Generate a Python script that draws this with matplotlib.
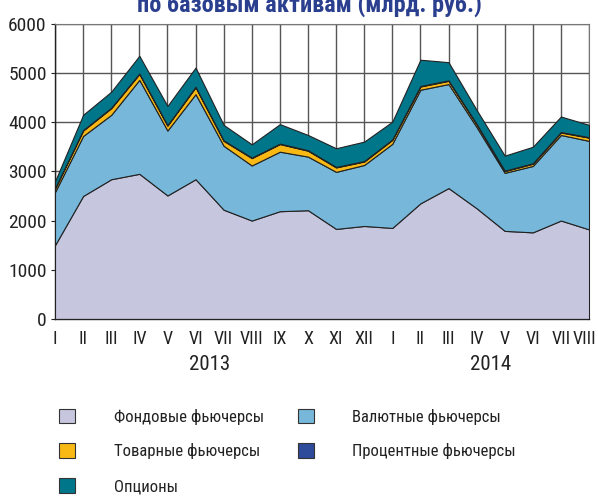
import numpy as np
import matplotlib.pyplot as plt
from matplotlib.patches import Patch
import matplotlib.transforms as mtransforms

months = ['I', 'II', 'III', 'IV', 'V', 'VI', 'VII', 'VIII', 'IX', 'X', 'XI', 'XII',
          'I', 'II', 'III', 'IV', 'V', 'VI', 'VII', 'VIII']
years = ['2013', '2014']
year_pos = [5.5, 15.5]

# млрд. руб.
stock_fut = [1500, 2500, 2840, 2950, 2510, 2840, 2220, 2000, 2190, 2210, 1830, 1890,
             1850, 2350, 2660, 2250, 1790, 1760, 2000, 1820]
fx_fut = [1080, 1220, 1310, 1910, 1320, 1730, 1300, 1120, 1210, 1090, 1160, 1240,
          1710, 2310, 2115, 1650, 1180, 1350, 1740, 1800]
comm_fut = [70, 110, 135, 120, 100, 140, 100, 150, 155, 120, 90, 70,
            80, 65, 65, 55, 35, 45, 50, 65]
rate_fut = [10, 10, 10, 10, 10, 10, 10, 10, 10, 10, 10, 10,
            10, 10, 10, 10, 10, 10, 10, 10]
options = [140, 310, 325, 360, 390, 390, 315, 270, 395, 310, 380, 395,
           360, 535, 370, 285, 305, 335, 315, 250]

labels = ['Фондовые фьючерсы', 'Валютные фьючерсы', 'Товарные фьючерсы',
          'Процентные фьючерсы', 'Опционы']
colors = ['#c6c6df', '#76b7da', '#f9b914', '#2e4a9a', '#00768a']

plt.rcParams['font.family'] = ['Roboto Condensed', 'PT Sans Narrow', 'DejaVu Sans']

fig = plt.figure(figsize=(5.98, 4.96), dpi=100)
ax = fig.add_axes([0.092, 0.357, 0.893, 0.595])

x = np.arange(len(months))
ax.stackplot(x, stock_fut, fx_fut, comm_fut, rate_fut, options,
             colors=colors, edgecolor='#222222', linewidth=0.8, zorder=3)

ax.set_xlim(0, len(months) - 1)
ax.set_ylim(0, 6000)
ax.set_yticks(range(0, 6001, 1000))
ax.set_xticks(x)
# the last label would run off the right edge, so it is placed by hand below
ax.set_xticklabels(months[:-1] + [''], fontsize=13, color='#222222')
ax.tick_params(axis='y', labelsize=14, colors='#222222', length=3, width=0.8, pad=3)
ax.tick_params(axis='x', length=0, pad=8)
ax.grid(True, color='#555555', linewidth=1.0, zorder=0)
ax.set_axisbelow(True)
for s in ['top', 'right']:
    ax.spines[s].set_color('#777777')
for s in ['left', 'bottom']:
    ax.spines[s].set_color('#222222')
    ax.spines[s].set_linewidth(1.0)

trans = mtransforms.blended_transform_factory(ax.transData, ax.transAxes)
ax.annotate(months[-1], xy=(x[-1], 0), xycoords=trans, xytext=(5.5, -8),
            textcoords='offset points', ha='right', va='top',
            fontsize=13, color='#222222', annotation_clip=False)
for yr, p in zip(years, year_pos):
    ax.text(p, -0.155, yr, transform=trans, ha='center', va='center',
            fontsize=15, color='#222222')

fig.text(0.518, 0.977, 'по базовым активам (млрд. руб.)', ha='center',
         va='baseline', fontsize=17.5, fontweight='bold', color='#2b3f8f')

order = [0, 2, 4, 1, 3]
handles = [Patch(facecolor=colors[i], edgecolor='#333333', linewidth=0.8) for i in order]
fig.legend(handles, [labels[i] for i in order], ncol=2, loc='upper left',
           bbox_to_anchor=(0.099, 0.176), frameon=False, fontsize=12,
           borderpad=0, borderaxespad=0,
           handlelength=0.96, handleheight=0.96, handletextpad=2.3,
           columnspacing=2.06, labelspacing=1.12, labelcolor='#222222')

fig.savefig('out.png', dpi=100)
